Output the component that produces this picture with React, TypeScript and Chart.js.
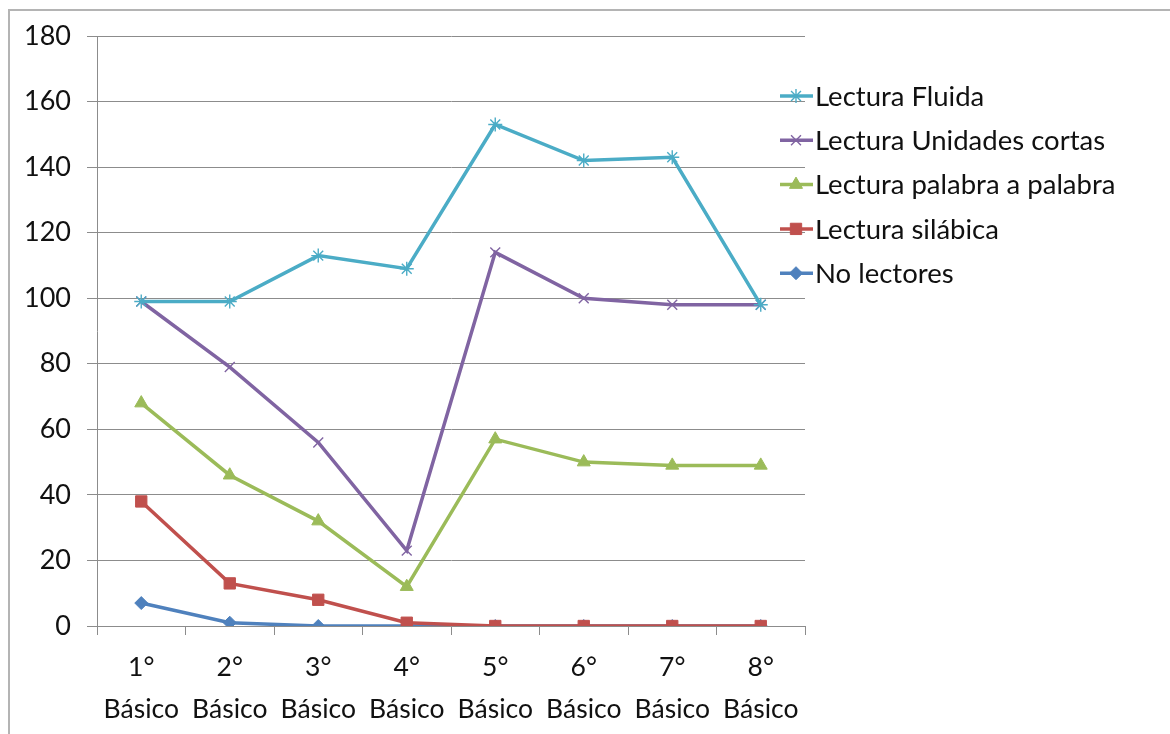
import React, { useEffect, useRef } from "react";
import { Chart, registerables } from "chart.js";
import { drawPoint } from "chart.js/helpers";

Chart.register(...registerables);

const categories = [
  ["1°", "Básico"],
  ["2°", "Básico"],
  ["3°", "Básico"],
  ["4°", "Básico"],
  ["5°", "Básico"],
  ["6°", "Básico"],
  ["7°", "Básico"],
  ["8°", "Básico"],
];

const lecturaFluida = [99, 99, 113, 109, 153, 142, 143, 98];
const lecturaUnidadesCortas = [99, 79, 56, 23, 114, 100, 98, 98];
const lecturaPalabraAPalabra = [68, 46, 32, 12, 57, 50, 49, 49];
const lecturaSilabica = [38, 13, 8, 1, 0, 0, 0, 0];
const noLectores = [7, 1, 0, 0, 0, 0, 0, 0];

const seriesNames = [
  "Lectura Fluida",
  "Lectura Unidades cortas",
  "Lectura palabra a palabra",
  "Lectura silábica",
  "No lectores",
];

const yTicks = [0, 20, 40, 60, 80, 100, 120, 140, 160, 180];

const FONT = "Lato, 'Open Sans', sans-serif";

const legendPlugin = {
  id: "excelLegend",
  afterDraw(chart: any) {
    const ctx = chart.ctx;
    const datasets = chart.data.datasets;
    ctx.save();
    datasets.forEach((ds: any, i: number) => {
      const y = 96 + i * 44.3;
      ctx.strokeStyle = ds.borderColor;
      ctx.lineWidth = 3.5;
      ctx.beginPath();
      ctx.moveTo(780, y);
      ctx.lineTo(813, y);
      ctx.stroke();
      ctx.fillStyle = ds.pointBackgroundColor;
      ctx.strokeStyle = ds.pointBorderColor;
      ctx.lineWidth = ds.pointBorderWidth;
      drawPoint(
        ctx,
        { pointStyle: ds.pointStyle, rotation: 0, radius: ds.pointRadius, borderWidth: ds.pointBorderWidth },
        796,
        y
      );
      ctx.fillStyle = "#111";
      ctx.font = `27.5px ${FONT}`;
      ctx.textBaseline = "middle";
      ctx.textAlign = "left";
      ctx.fillText(ds.label, 815, y + 1);
    });
    ctx.restore();
  },
};

export default function App() {
  const canvasRef = useRef<HTMLCanvasElement>(null);

  useEffect(() => {
    if (!canvasRef.current) return;
    const mk = (label: string, data: number[], color: string, style: string, radius: number, bw: number) => ({
      label,
      data,
      borderColor: color,
      backgroundColor: color,
      borderWidth: 3.5,
      pointStyle: style,
      pointRadius: radius,
      pointHoverRadius: radius,
      pointBackgroundColor: color,
      pointBorderColor: color,
      pointBorderWidth: bw,
      tension: 0,
      fill: false,
    });
    const chart = new Chart(canvasRef.current, {
      type: "line",
      data: {
        labels: categories,
        datasets: [
          mk(seriesNames[0], lecturaFluida, "#4BACC6", "star", 7, 1.4),
          mk(seriesNames[1], lecturaUnidadesCortas, "#8064A2", "crossRot", 7, 1.4),
          mk(seriesNames[2], lecturaPalabraAPalabra, "#9BBB59", "triangle", 7.5, 1),
          mk(seriesNames[3], lecturaSilabica, "#C0504D", "rect", 8, 1),
          mk(seriesNames[4], noLectores, "#4F81BD", "rectRot", 6.5, 1),
        ],
      },
      options: {
        responsive: false,
        animation: false,
        devicePixelRatio: 1,
        layout: { padding: { left: 0, right: 365, top: 36, bottom: 0 } },
        plugins: {
          legend: { display: false },
          tooltip: { enabled: false },
        },
        scales: {
          x: {
            type: "category",
            offset: true,
            afterFit: (s: any) => {
              s.height = 108;
            },
            grid: {
              offset: true,
              drawOnChartArea: false,
              drawTicks: true,
              tickLength: 9,
              color: "#8c8c8c",
              lineWidth: 1,
            },
            border: { display: true, color: "#8c8c8c", width: 1 },
            ticks: {
              color: "#111",
              font: { family: FONT, size: 26.5, lineHeight: 1.6 },
              padding: 11,
              maxRotation: 0,
              autoSkip: false,
            },
          },
          y: {
            min: 0,
            max: 180,
            afterFit: (s: any) => {
              s.width = 97;
            },
            afterBuildTicks: (s: any) => {
              s.ticks = yTicks.map((v) => ({ value: v }));
            },
            grid: {
              color: "#8c8c8c",
              lineWidth: 1,
              drawTicks: true,
              tickLength: 10,
            },
            border: { display: true, color: "#8c8c8c", width: 1 },
            ticks: {
              color: "#111",
              font: { family: FONT, size: 27 },
              padding: 16,
            },
          },
        },
      },
      plugins: [legendPlugin],
    } as any);
    return () => chart.destroy();
  }, []);

  return (
    <div
      style={{
        position: "fixed",
        left: 0,
        top: 0,
        width: 1170,
        height: 734,
        background: "#fff",
        overflow: "hidden",
      }}
    >
      <div
        style={{
          position: "absolute",
          left: 8,
          top: 9,
          right: -10,
          bottom: -10,
          borderTop: "2px solid #b4b4b4",
          borderLeft: "2px solid #b4b4b4",
        }}
      />
      <canvas
        ref={canvasRef}
        width={1170}
        height={734}
        style={{ position: "absolute", left: 0, top: 0, width: 1170, height: 734 }}
      />
    </div>
  );
}
